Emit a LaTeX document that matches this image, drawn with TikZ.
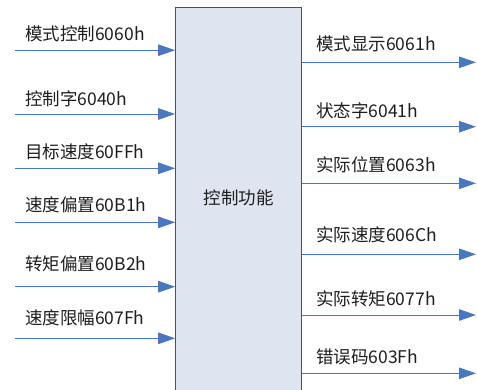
\documentclass[tikz,border=0pt]{standalone}
\usepackage{fontspec}
\setmainfont{Noto Sans CJK SC}
\usetikzlibrary{arrows.meta}
\definecolor{boxfill}{HTML}{DEE5F0}
\definecolor{boxline}{HTML}{505050}
\definecolor{arrowc}{HTML}{4A78C0}
\definecolor{txt}{HTML}{1E1E1E}
\begin{document}
\begin{tikzpicture}[x=1pt,y=1pt,
  lbl/.style={anchor=west,inner sep=0pt,font=\fontsize{17.5}{19}\selectfont,text=txt},
  sig/.style={draw=arrowc,line width=1pt,-{Triangle[length=17pt,width=11.5pt]}}]
\useasboundingbox (0,0) rectangle (477,-389);
\node[draw=boxline,fill=boxfill,line width=1.2pt,minimum width=125.5pt,minimum height=392pt,inner sep=0pt] (ctrl) at (238.5,-203.5) {};
\node[inner sep=0pt,font=\fontsize{17.5}{19}\selectfont,text=txt] (title) at (238.5,-198) {控制功能};
% inputs
\foreach \n/\ay/\ty/\t in {1/50.2/33.7/模式控制6060h, 2/114/99/控制字6040h, 3/168.3/151.7/目标速度60FFh, 4/222.3/205/速度偏置60B1h, 5/286.7/264/转矩偏置60B2h, 6/338.3/318.3/速度限幅607Fh}{
  \coordinate (in\n) at (15,-\ay);
  \node[lbl] (inl\n) at (25,-\ty) {\t};
  \draw[sig] (in\n) -- (in\n -| ctrl.west);
}
% outputs
\foreach \n/\ay/\ty/\t in {1/62.3/44/模式显示6061h, 2/126.7/110.7/状态字6041h, 3/183.3/165/实际位置6063h, 4/254.3/235/实际速度606Ch, 5/315/298.3/实际转矩6077h, 6/373.3/356.7/错误码603Fh}{
  \coordinate (out\n) at (476,-\ay);
  \node[lbl] (outl\n) at (316,-\ty) {\t};
  \draw[sig] (out\n -| ctrl.east) -- (out\n);
}
\end{tikzpicture}
\end{document}
